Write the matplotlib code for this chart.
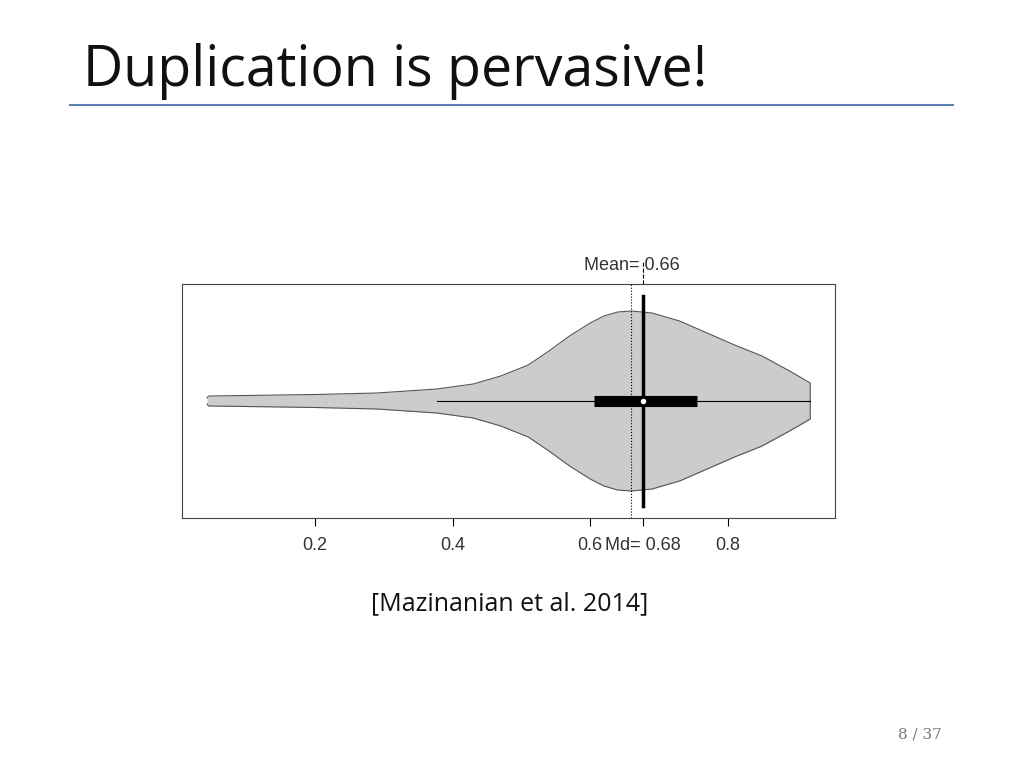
import matplotlib
matplotlib.use("Agg")
import matplotlib.pyplot as plt

# violin outline: x value and half-width (axis units, box half-height = 117)
vx = [0.043, 0.045, 0.10, 0.20, 0.29, 0.377, 0.43, 0.47, 0.51, 0.54, 0.57, 0.60, 0.62, 0.64, 0.66, 0.69, 0.73, 0.77, 0.81, 0.85, 0.89, 0.92, 0.92]
vw = [3, 5, 5.5, 6.5, 8, 12, 17, 25, 36, 50, 65, 78, 85, 89, 90, 88, 80, 68, 56, 45, 30, 18, 0]
whisker = (0.377, 0.92)
box = (0.605, 0.755)
median = 0.677
mean = 0.66
ticks = [0.2, 0.4, 0.6, 0.8]
tick_labels = ["0.2", "0.4", "0.6", "0.8"]

fig = plt.figure(figsize=(10.24, 7.68), dpi=100)
fig.text(83/1024, 1-72/768, "Duplication is pervasive!", fontsize=40, family="Open Sans",
         va="center", ha="left", color="#111111")
fig.add_artist(plt.Line2D([70/1024, 953/1024], [1-105/768]*2, color="#5B7DB8", lw=1.5))

ax = fig.add_axes([182/1024, 250/768, 653/1024, 234/768])
ax.set_xlim(0.0065, 0.956)
ax.set_ylim(-117, 117)
ax.fill_between(vx, [-w for w in vw], vw, color="#cccccc", lw=0, zorder=1)
ax.plot(vx, vw, color="#555555", lw=0.8, zorder=2)
ax.plot(vx, [-w for w in vw], color="#555555", lw=0.8, zorder=2)
ax.plot(whisker, [0, 0], color="black", lw=0.8, zorder=3)
ax.plot(box, [0, 0], color="black", lw=8, solid_capstyle="butt", zorder=4)
ax.plot([median, median], [-105, 105], color="black", lw=2.5, zorder=5)
ax.plot([median], [0], "o", mfc="white", mec="black", ms=5, zorder=6)
ax.axvline(mean, color="black", ls=":", lw=0.8, zorder=5)
ax.plot([median, median], [117, 140], color="black", ls="--", lw=0.8, clip_on=False)
ax.text(mean, 127, "Mean= 0.66", ha="center", va="bottom", fontsize=13, family="Liberation Sans", color="#333333")
ax.set_yticks([])
ax.set_xticks(ticks + [median])
ax.set_xticklabels(tick_labels + ["Md= 0.68"], fontsize=13, family="Liberation Sans", color="#333333")
ax.tick_params(axis="x", length=6, pad=8)
for s in ax.spines.values():
    s.set_color("#444444"); s.set_linewidth(0.8)

fig.text(510/1024, 1-604/768, "[Mazinanian et al. 2014]", fontsize=18, family="Open Sans",
         ha="center", va="center", color="#111111")
fig.text(920/1024, 1-735/768, "8 / 37", fontsize=11, family="DejaVu Serif", ha="center", va="center", color="#777777")
fig.savefig("out.png", dpi=100)
